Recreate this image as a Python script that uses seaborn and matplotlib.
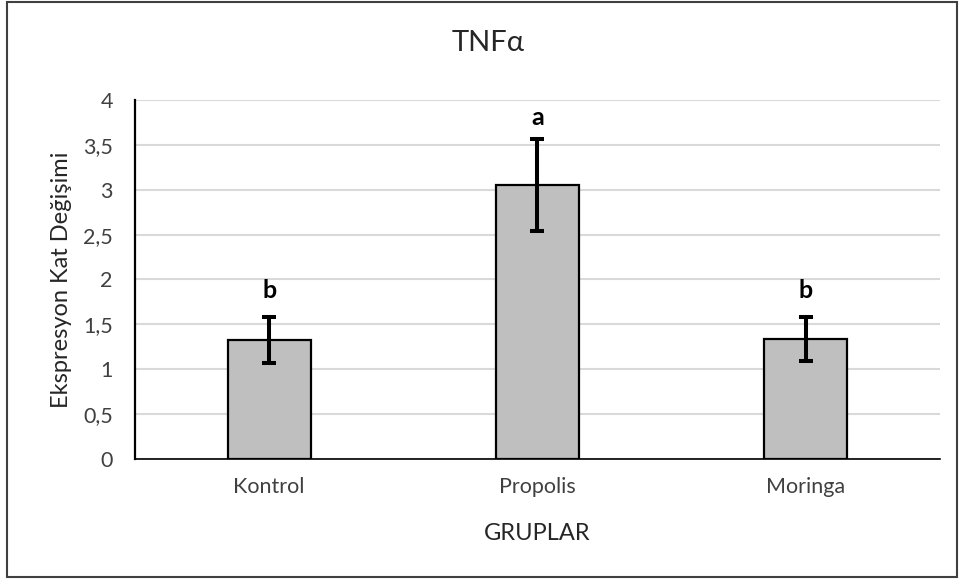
import matplotlib
matplotlib.use("Agg")
import matplotlib.pyplot as plt
import seaborn as sns
import pandas as pd
import numpy as np
from matplotlib.patches import Rectangle

groups = ["Kontrol", "Propolis", "Moringa"]
means = [1.325, 3.055, 1.34]
errors = [0.257, 0.515, 0.245]
letters = ["b", "a", "b"]
letter_gap = [0.21, 0.15, 0.21]
yticks = [0, 0.5, 1, 1.5, 2, 2.5, 3, 3.5, 4]
ytick_labels = ["0", "0,5", "1", "1,5", "2", "2,5", "3", "3,5", "4"]

sns.set_theme(style="white")
plt.rcParams['font.family'] = ['Lato', 'DejaVu Sans']

df = pd.DataFrame({"grp": groups, "val": means})

fig = plt.figure(figsize=(9.6, 5.79), dpi=100)
ax = fig.add_axes([0.1406, 0.2073, 0.8385, 0.62])

sns.barplot(data=df, x="grp", y="val", color="#BFBFBF", edgecolor="black",
            linewidth=1.6, width=0.31, saturation=1, ax=ax)
ax.errorbar(np.arange(len(groups)), means, yerr=errors, fmt="none",
            ecolor="black", elinewidth=2.9, capsize=4.7, capthick=2.9, zorder=5)
for i, (m, e, l, g) in enumerate(zip(means, errors, letters, letter_gap)):
    ax.text(i, m + e + g, l, ha="center", va="baseline", fontsize=18,
            fontweight="bold", color="black")

ax.set_ylim(0, 4)
ax.set_xlim(-0.5, 2.5)
ax.set_yticks(yticks)
ax.set_yticklabels(ytick_labels, fontsize=15.5, color="#404040")
ax.tick_params(axis="x", labelsize=15.5, length=0, pad=13, labelcolor="#404040")
ax.tick_params(axis="y", length=0, pad=16)
ax.yaxis.grid(True, color="#D9D9D9", linewidth=1.5)
ax.set_axisbelow(True)
for s in ["top", "right"]:
    ax.spines[s].set_visible(False)
ax.spines["left"].set_color("black")
ax.spines["left"].set_linewidth(1.6)
ax.spines["bottom"].set_color("black")
ax.spines["bottom"].set_linewidth(1.2)
ax.set_xlabel("GRUPLAR", fontsize=17, labelpad=19, color="#262626")
ax.set_ylabel("Ekspresyon Kat Değişimi", fontsize=17, labelpad=8, color="#262626")

fig.text(0.508, 0.925, "TNFα", ha="center", va="center", fontsize=21, color="#262626")

fig.patches.append(Rectangle((0.007, 0.004), 0.990, 0.992, transform=fig.transFigure,
                             fill=False, edgecolor="#404040", linewidth=1.5))

fig.savefig("out.png", dpi=100)
